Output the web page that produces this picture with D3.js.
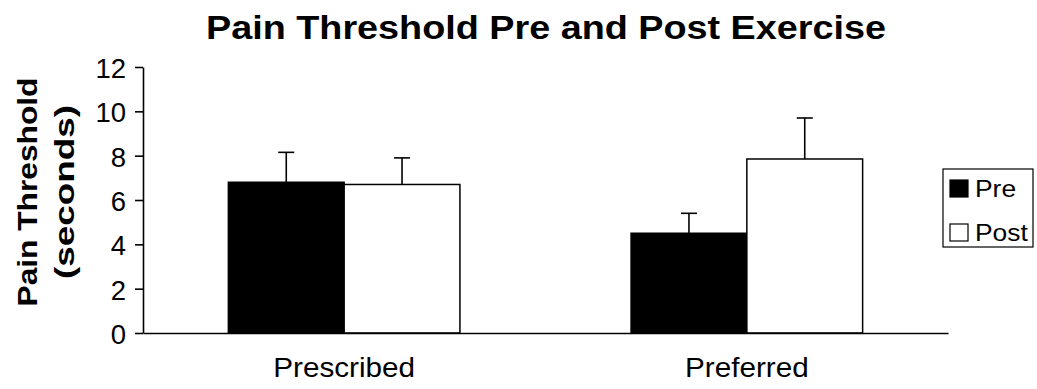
<!DOCTYPE html>
<html>
<head>
<meta charset="utf-8">
<script src="https://cdn.jsdelivr.net/npm/d3@7"></script>
<style>
  html, body { margin: 0; padding: 0; background: #fff; }
  svg { display: block; font-family: "Liberation Sans", Arial, Helvetica, sans-serif; }
</style>
</head>
<body>
<svg id="chart" width="1037" height="389"></svg>
<script>
// Pain threshold (seconds), mean with upper error (SE)
const categories = ["Prescribed", "Preferred"];
const seriesNames = ["Pre", "Post"];
const preValues = [6.8, 4.5];
const postValues = [6.7, 7.85];
const preErrors = [1.35, 0.9];
const postErrors = [1.2, 1.85];
const yTicks = [0, 2, 4, 6, 8, 10, 12];

const svg = d3.select("#chart");
const margin = { left: 143, right: 89, top: 67, bottom: 56 };
const W = 1037, H = 389;
const FONT = "Liberation Sans, Arial, sans-serif";

const x = d3.scaleBand()
  .domain(categories)
  .range([margin.left, W - margin.right])
  .paddingInner(0.425)
  .paddingOuter(0.212);

const xSub = d3.scaleBand()
  .domain(seriesNames)
  .range([0, x.bandwidth()]);

const y = d3.scaleLinear()
  .domain([0, 12])
  .range([H - margin.bottom, margin.top]);

const fills = { Pre: "#000", Post: "#fff" };

const rows = categories.map((c, i) => ({
  cat: c,
  items: [
    { s: "Pre", v: preValues[i], e: preErrors[i] },
    { s: "Post", v: postValues[i], e: postErrors[i] }
  ]
}));

// widen a text element's glyphs by a factor
function widen(sel, k) {
  sel.each(function () {
    const w = this.getComputedTextLength();
    d3.select(this).attr("textLength", w * k).attr("lengthAdjust", "spacingAndGlyphs");
  });
}

// Title
svg.append("text")
  .attr("x", 546)
  .attr("y", 39)
  .attr("text-anchor", "middle")
  .attr("font-weight", "bold")
  .attr("font-size", 33)
  .attr("textLength", 680)
  .attr("lengthAdjust", "spacingAndGlyphs")
  .text("Pain Threshold Pre and Post Exercise");

// Bars and error bars
const groups = svg.selectAll("g.cat")
  .data(rows)
  .join("g")
  .attr("class", "cat")
  .attr("transform", d => `translate(${x(d.cat)},0)`);

groups.selectAll("line.err")
  .data(d => d.items)
  .join("line")
  .attr("class", "err")
  .attr("x1", d => xSub(d.s) + xSub.bandwidth() / 2)
  .attr("x2", d => xSub(d.s) + xSub.bandwidth() / 2)
  .attr("y1", d => y(d.v))
  .attr("y2", d => y(d.v + d.e))
  .attr("stroke", "#000")
  .attr("stroke-width", 1.6);

groups.selectAll("line.cap")
  .data(d => d.items)
  .join("line")
  .attr("class", "cap")
  .attr("x1", d => xSub(d.s) + xSub.bandwidth() / 2 - 8)
  .attr("x2", d => xSub(d.s) + xSub.bandwidth() / 2 + 8)
  .attr("y1", d => y(d.v + d.e))
  .attr("y2", d => y(d.v + d.e))
  .attr("stroke", "#000")
  .attr("stroke-width", 1.6);

groups.selectAll("rect")
  .data(d => d.items)
  .join("rect")
  .attr("x", d => xSub(d.s))
  .attr("y", d => y(d.v))
  .attr("width", xSub.bandwidth())
  .attr("height", d => y(0) - y(d.v))
  .attr("fill", d => fills[d.s])
  .attr("stroke", "#000")
  .attr("stroke-width", 1.5);

// Y axis
const yAxis = svg.append("g")
  .attr("transform", `translate(${margin.left},0)`)
  .call(d3.axisLeft(y).tickValues(yTicks).tickSize(8).tickSizeOuter(0).tickPadding(9));
yAxis.select(".domain").attr("stroke-width", 1.6);
yAxis.selectAll(".tick line").attr("stroke-width", 1.6);
yAxis.selectAll(".tick text")
  .attr("font-size", 27.5)
  .attr("font-family", FONT)
  .attr("dy", "0.38em")
  .attr("fill", "#000");

// X axis
const xAxis = svg.append("g")
  .attr("transform", `translate(0,${y(0)})`)
  .call(d3.axisBottom(x).tickSize(0).tickSizeOuter(0));
xAxis.select(".domain").attr("stroke-width", 1.6);
xAxis.selectAll(".tick text")
  .attr("font-size", 28)
  .attr("font-family", FONT)
  .attr("y", 44)
  .attr("dy", 0)
  .attr("fill", "#000")
  .call(widen, 1.06);

// Y axis label
const yl = svg.append("text")
  .attr("transform", "translate(0,192) rotate(-90)")
  .attr("text-anchor", "middle")
  .attr("font-weight", "bold")
  .attr("font-size", 28.5);
yl.append("tspan").attr("x", 0).attr("y", 37)
  .attr("textLength", 229).attr("lengthAdjust", "spacingAndGlyphs")
  .text("Pain Threshold");
yl.append("tspan").attr("x", 0).attr("y", 74)
  .attr("textLength", 174).attr("lengthAdjust", "spacingAndGlyphs")
  .text("(seconds)");

// Legend
const legend = svg.append("g").attr("transform", "translate(943,169)");
legend.append("rect")
  .attr("width", 90).attr("height", 78)
  .attr("fill", "#fff").attr("stroke", "#000").attr("stroke-width", 1.2);
const li = legend.selectAll("g.item")
  .data(seriesNames)
  .join("g")
  .attr("class", "item")
  .attr("transform", (d, i) => `translate(7,${11 + i * 44})`);
li.append("rect")
  .attr("width", 18).attr("height", 17)
  .attr("fill", d => fills[d])
  .attr("stroke", "#000").attr("stroke-width", 1.2);
li.append("text")
  .attr("x", 25).attr("y", 17)
  .attr("font-size", 24)
  .attr("font-family", FONT)
  .text(d => d)
  .call(widen, 1.1);
</script>
</body>
</html>
